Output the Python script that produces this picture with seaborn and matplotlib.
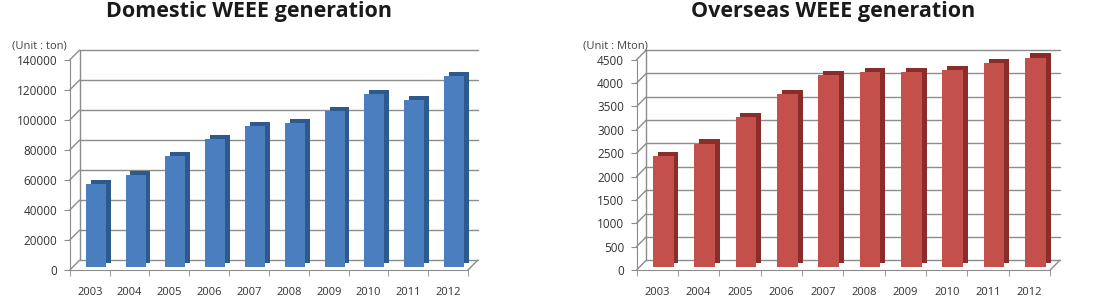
import pandas as pd
import matplotlib
matplotlib.use("Agg")
import matplotlib.pyplot as plt
import matplotlib.patheffects as pe
import matplotlib.transforms as mtransforms
from matplotlib.ticker import MultipleLocator, FixedLocator
import seaborn as sns

# Data
years = ['2003', '2004', '2005', '2006', '2007', '2008', '2009', '2010', '2011', '2012']
domestic_ton = [55000, 61000, 74000, 85000, 94000, 96000, 104000, 115000, 111000, 127000]
overseas_mton = [2370, 2640, 3200, 3700, 4100, 4170, 4180, 4210, 4360, 4480]

sns.set_style('white')
plt.rcParams['font.family'] = ['Open Sans', 'DejaVu Sans']

fig = plt.figure(figsize=(11.09, 3.05), dpi=100)

panels = [
    dict(values=domestic_ton, title='Domestic WEEE generation', unit='(Unit : ton)',
         face='#4a7ebf', side='#2d5a8e', ymax=140000, step=20000,
         rect=[0.063, 0.115, 0.359, 0.689], title_x=0.2245, unit_x=0.011),
    dict(values=overseas_mton, title='Overseas WEEE generation', unit='(Unit : Mton)',
         face='#c4504c', side='#8a2c2a', ymax=4500, step=500,
         rect=[0.574, 0.115, 0.373, 0.689], title_x=0.751, unit_x=0.5257),
]

grid_col = '#8c8c8c'
depth = (7, 7)  # back-wall offset in points

for p in panels:
    ax = fig.add_axes(p['rect'])
    df = pd.DataFrame({'Year': years, 'Value': p['values']})
    sns.barplot(x='Year', y='Value', data=df, color=p['face'], saturation=1,
                width=0.5, ax=ax, zorder=3)
    # fake 3D: bars sit a little back from the front edge, with a darker extrusion
    mid = ax.transData + mtransforms.ScaledTranslation(4.3 / 72, 2.2 / 72, fig.dpi_scale_trans)
    for bar in ax.patches:
        bar.set_edgecolor('none')
        bar.set_clip_on(False)
        bar.set_transform(mid)
        bar.set_path_effects([
            pe.SimplePatchShadow(offset=(3.5, 3), shadow_rgbFace=p['side'], alpha=1),
            pe.Normal(),
        ])
    ax.set_ylim(0, p['ymax'])
    ax.set_xlim(-0.5, len(years) - 0.5)
    ax.yaxis.set_major_locator(MultipleLocator(p['step']))
    ax.xaxis.set_minor_locator(FixedLocator([i - 0.5 for i in range(len(years) + 1)]))

    # back-wall gridlines shifted up/right, with short diagonals to the front axis
    back = ax.get_yaxis_transform() + mtransforms.ScaledTranslation(
        depth[0] / 72, depth[1] / 72, fig.dpi_scale_trans)
    ticks = [t for t in ax.get_yticks() if 0 <= t <= p['ymax']]
    for t in ticks:
        ax.plot([0, 1], [t, t], transform=back, color=grid_col, lw=1,
                zorder=1, clip_on=False)
        ax.annotate('', xy=(0, t), xycoords=ax.get_yaxis_transform(),
                    xytext=depth, textcoords='offset points',
                    arrowprops=dict(arrowstyle='-', color=grid_col, lw=1,
                                    shrinkA=0, shrinkB=0), zorder=1)
    ax.annotate('', xy=(1, 0), xycoords=ax.get_yaxis_transform(),
                xytext=depth, textcoords='offset points',
                arrowprops=dict(arrowstyle='-', color=grid_col, lw=1,
                                shrinkA=0, shrinkB=0), zorder=1)
    ax.plot([0, 0], [0, p['ymax']], transform=back, color=grid_col, lw=1,
            zorder=1, clip_on=False)

    for s in ['top', 'right']:
        ax.spines[s].set_visible(False)
    for s in ['left', 'bottom']:
        ax.spines[s].set_color(grid_col)
    ax.tick_params(axis='y', which='major', length=4, color=grid_col,
                   labelsize=8.5, labelcolor='#333333', pad=5, left=True)
    ax.tick_params(axis='x', which='major', length=0, labelsize=8,
                   labelcolor='#333333', pad=12)
    ax.tick_params(axis='x', which='minor', length=4, color=grid_col, bottom=True)
    ax.set_xlabel('')
    ax.set_ylabel('')
    fig.text(p['title_x'], 0.962, p['title'], ha='center', va='center',
             fontsize=15.5, fontweight='bold', color='#1a1a1a')
    fig.text(p['unit_x'], 0.85, p['unit'], ha='left', va='center',
             fontsize=8, color='#444444')

fig.savefig('out.png', dpi=100)
